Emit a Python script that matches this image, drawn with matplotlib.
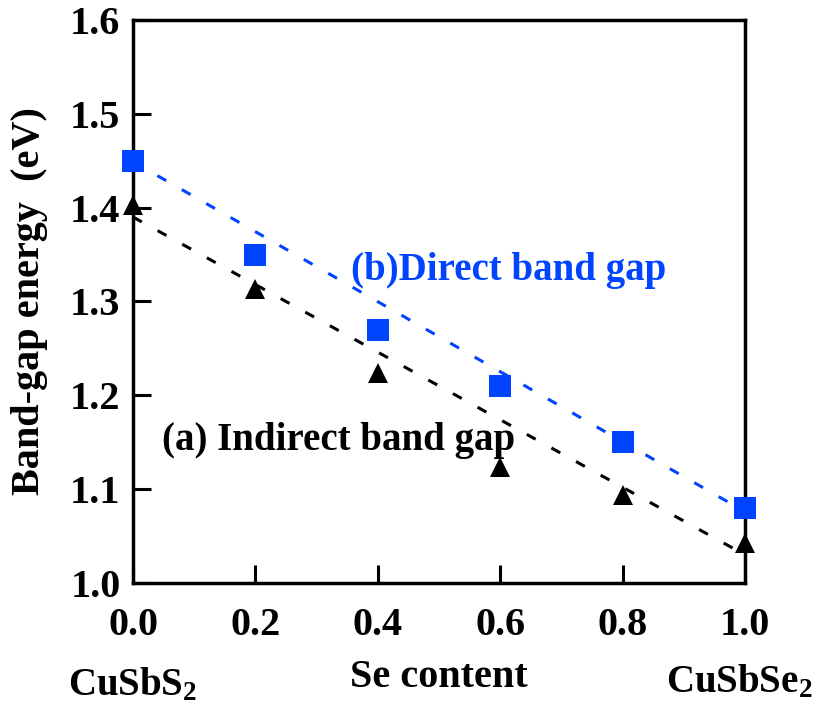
import numpy as np
import matplotlib
matplotlib.use("Agg")
import matplotlib.pyplot as plt

# values
se_content = [0.0, 0.2, 0.4, 0.6, 0.8, 1.0]
direct_gap = [1.45, 1.35, 1.27, 1.21, 1.15, 1.08]
indirect_gap = [1.403, 1.313, 1.224, 1.124, 1.094, 1.043]

# dashed guide lines (endpoints)
fit_x = [0.0, 1.0]
fit_direct = [1.449, 1.076]
fit_indirect = [1.39, 1.03]

x_ticks = [0.0, 0.2, 0.4, 0.6, 0.8, 1.0]
y_ticks = [1.0, 1.1, 1.2, 1.3, 1.4, 1.5, 1.6]

blue = "#0044ff"

plt.rcParams["font.family"] = ["Liberation Serif", "DejaVu Serif"]
plt.rcParams["font.weight"] = "bold"
plt.rcParams["mathtext.default"] = "regular"

fig = plt.figure(figsize=(8.17, 7.04), dpi=100)
ax = fig.add_axes([0.1628, 0.1719, 0.7491, 0.7997])

ax.plot(fit_x, fit_direct, color=blue, lw=2.2, dashes=(3.3, 5.9), zorder=2)
ax.plot(fit_x, fit_indirect, color="black", lw=2.2, dashes=(3.3, 5.9), zorder=2)

ax.plot(se_content, indirect_gap, "^", color="black", ms=15, mew=0,
        clip_on=False, zorder=5)
ax.plot(se_content, direct_gap, "s", color=blue, ms=16, mew=0,
        clip_on=False, zorder=6)

ax.set_xlim(0, 1.0)
ax.set_ylim(1.0, 1.6)
ax.set_xticks(x_ticks)
ax.set_yticks(y_ticks)
ax.set_xticklabels([f"{v:.1f}" for v in x_ticks])
ax.set_yticklabels([f"{v:.1f}" for v in y_ticks])

for s in ax.spines.values():
    s.set_linewidth(2.5)
ax.tick_params(direction="in", length=13, width=2.2, labelsize=29,
               top=False, right=False)
ax.tick_params(axis="x", pad=17)
ax.tick_params(axis="y", pad=9)
for lab in ax.get_xticklabels() + ax.get_yticklabels():
    lab.set_fontweight("bold")

ax.set_ylabel("Band-gap energy  (eV)", fontsize=29, fontweight="bold", labelpad=16)

ax.text(0.5, -0.185, "Se content", transform=ax.transAxes, ha="center",
        va="baseline", fontsize=29, fontweight="bold")
ax.text(0.0, -0.199, r"CuSbS$_2$", transform=ax.transAxes, ha="center",
        va="baseline", fontsize=28, fontweight="bold")
ax.text(0.99, -0.195, r"CuSbSe$_2$", transform=ax.transAxes, ha="center",
        va="baseline", fontsize=28, fontweight="bold")

ax.text(0.357, 1.333, "(b)Direct band gap", color=blue, fontsize=28,
        fontweight="bold", ha="left", va="center")
ax.text(0.048, 1.152, "(a) Indirect band gap", color="black", fontsize=28,
        fontweight="bold", ha="left", va="center")

fig.savefig("out.png", dpi=100)
